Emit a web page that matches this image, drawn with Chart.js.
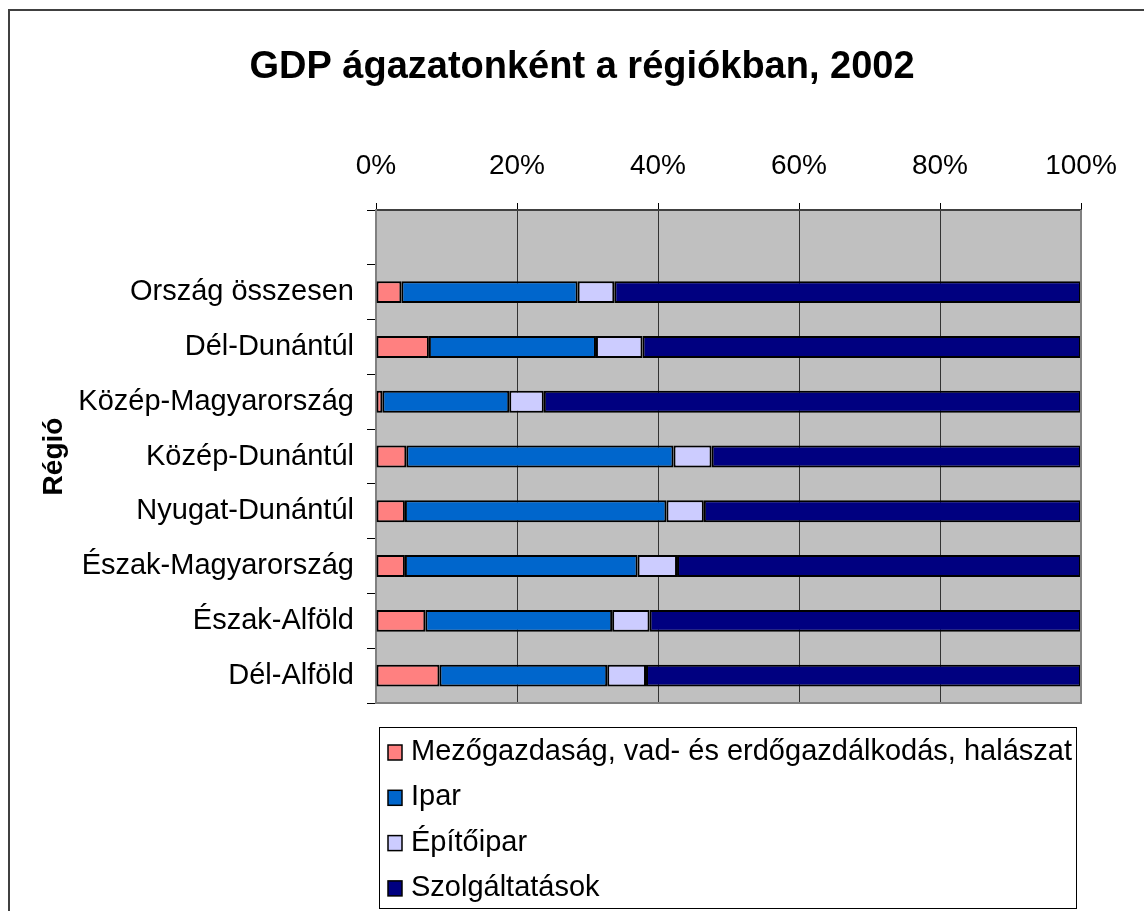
<!DOCTYPE html>
<html>
<head>
<meta charset="utf-8">
<script src="https://cdn.jsdelivr.net/npm/chart.js@4/dist/chart.umd.min.js"></script>
<style>
  body { margin: 0; background: #fff; }
  canvas { display: block; }
</style>
</head>
<body>
<canvas id="gdpChart" width="1144" height="911"></canvas>
<script>
// Régiók (the first, empty slot is the blank row at the top of the plot)
const regions = ['', 'Ország összesen', 'Dél-Dunántúl', 'Közép-Magyarország', 'Közép-Dunántúl',
    'Nyugat-Dunántúl', 'Észak-Magyarország', 'Észak-Alföld', 'Dél-Alföld'];

// shares in %
const agriculture = [null, 3.6, 7.5, 0.9, 4.3, 4.1, 4.1, 7.0, 9.0];
const industry = [null, 25.0, 23.7, 18.0, 37.9, 37.1, 33.0, 26.5, 23.8];
const construction = [null, 5.2, 6.6, 4.9, 5.4, 5.3, 5.6, 5.3, 5.5];
const services = [null, 66.2, 62.2, 76.2, 52.4, 53.5, 57.3, 61.2, 61.7];

const xTicks = [0, 20, 40, 60, 80, 100];
const chartTitle = 'GDP ágazatonként a régiókban, 2002';

const FONT = "'Liberation Sans', Arial, sans-serif";
Chart.defaults.font.family = FONT;
Chart.defaults.color = '#000';

// grey plot background, outer frame and the title
const backgroundPlugin = {
    id: 'excelBackground',
    beforeDraw: (chart) => {
        const ctx = chart.ctx;
        const a = chart.chartArea;
        ctx.save();
        ctx.fillStyle = '#fff';
        ctx.fillRect(0, 0, chart.width, chart.height);
        ctx.strokeStyle = '#404040';
        ctx.lineWidth = 2;
        ctx.beginPath();
        ctx.moveTo(9, chart.height);
        ctx.lineTo(9, 10);
        ctx.lineTo(chart.width, 10);
        ctx.stroke();
        ctx.fillStyle = '#C0C0C0';
        ctx.fillRect(a.left, a.top, a.right - a.left, a.bottom - a.top);

        ctx.font = 'bold 38px ' + FONT;
        ctx.fillStyle = '#000';
        ctx.textAlign = 'center';
        ctx.textBaseline = 'alphabetic';
        ctx.fillText(chartTitle, 582, 78);
        ctx.restore();
    },
    afterDraw: (chart) => {
        const ctx = chart.ctx;
        const a = chart.chartArea;
        ctx.save();
        ctx.strokeStyle = '#808080';
        ctx.lineWidth = 2;
        ctx.beginPath();
        ctx.moveTo(a.right, a.top);
        ctx.lineTo(a.right, a.bottom);
        ctx.lineTo(a.left, a.bottom);
        ctx.stroke();
        ctx.restore();
    }
};

// vertical legend in a box under the plot
const boxLegendPlugin = {
    id: 'boxLegend',
    afterDraw: (chart) => {
        const ctx = chart.ctx;
        const a = chart.chartArea;
        const left = a.left + 3;
        const top = a.bottom + 24;
        ctx.save();
        ctx.fillStyle = '#fff';
        ctx.fillRect(left, top, 697, 181);
        ctx.strokeStyle = '#000';
        ctx.lineWidth = 1;
        ctx.strokeRect(left + 0.5, top + 0.5, 697, 181);
        ctx.font = '29px ' + FONT;
        ctx.textBaseline = 'middle';
        ctx.textAlign = 'left';
        chart.data.datasets.forEach((ds, i) => {
            const cy = top + 25 + i * 45.3;
            ctx.fillStyle = ds.backgroundColor;
            ctx.fillRect(left + 9, cy - 7, 14, 15);
            ctx.strokeStyle = '#000';
            ctx.lineWidth = 1.5;
            ctx.strokeRect(left + 9, cy - 7, 14, 15);
            ctx.fillStyle = '#000';
            ctx.fillText(ds.label, left + 32, cy);
        });
        ctx.restore();
    }
};

const makeSet = (label, data, color) => ({
    label: label,
    data: data,
    backgroundColor: color,
    borderColor: '#000',
    borderWidth: 2,
    borderSkipped: false,
    barPercentage: 0.4,
    categoryPercentage: 1.0
});

new Chart(document.getElementById('gdpChart'), {
    type: 'bar',
    data: {
        labels: regions,
        datasets: [
            makeSet('Mezőgazdaság, vad- és erdőgazdálkodás, halászat', agriculture, '#FF8080'),
            makeSet('Ipar', industry, '#0066CC'),
            makeSet('Építőipar', construction, '#CCCCFF'),
            makeSet('Szolgáltatások', services, '#000080')
        ]
    },
    options: {
        indexAxis: 'y',
        responsive: false,
        animation: false,
        layout: { padding: { left: 0, right: 63, top: 90, bottom: 208 } },
        plugins: {
            legend: { display: false },
            tooltip: { enabled: false },
            title: { display: false }
        },
        scales: {
            x: {
                position: 'top',
                stacked: true,
                min: 0,
                max: 100,
                afterBuildTicks: (scale) => {
                    scale.ticks = xTicks.map(v => ({ value: v }));
                },
                afterFit: (scale) => { scale.height = 120; },
                ticks: {
                    font: { size: 28 },
                    padding: 20,
                    callback: (v) => v + '%'
                },
                grid: {
                    color: '#333',
                    lineWidth: 1,
                    tickLength: 7,
                    tickColor: '#000'
                },
                border: { display: true, color: '#404040', width: 2 }
            },
            y: {
                stacked: true,
                afterFit: (scale) => { scale.width = 376; },
                ticks: {
                    font: { size: 29 },
                    padding: 13
                },
                grid: {
                    drawOnChartArea: false,
                    tickLength: 9,
                    color: '#000',
                    offset: true
                },
                border: { display: true, color: '#808080', width: 2 },
                title: {
                    display: true,
                    text: 'Régió',
                    font: { size: 28, weight: 'bold' },
                    color: '#000',
                    padding: { top: 37, bottom: 0 }
                }
            }
        }
    },
    plugins: [backgroundPlugin, boxLegendPlugin]
});
</script>
</body>
</html>
